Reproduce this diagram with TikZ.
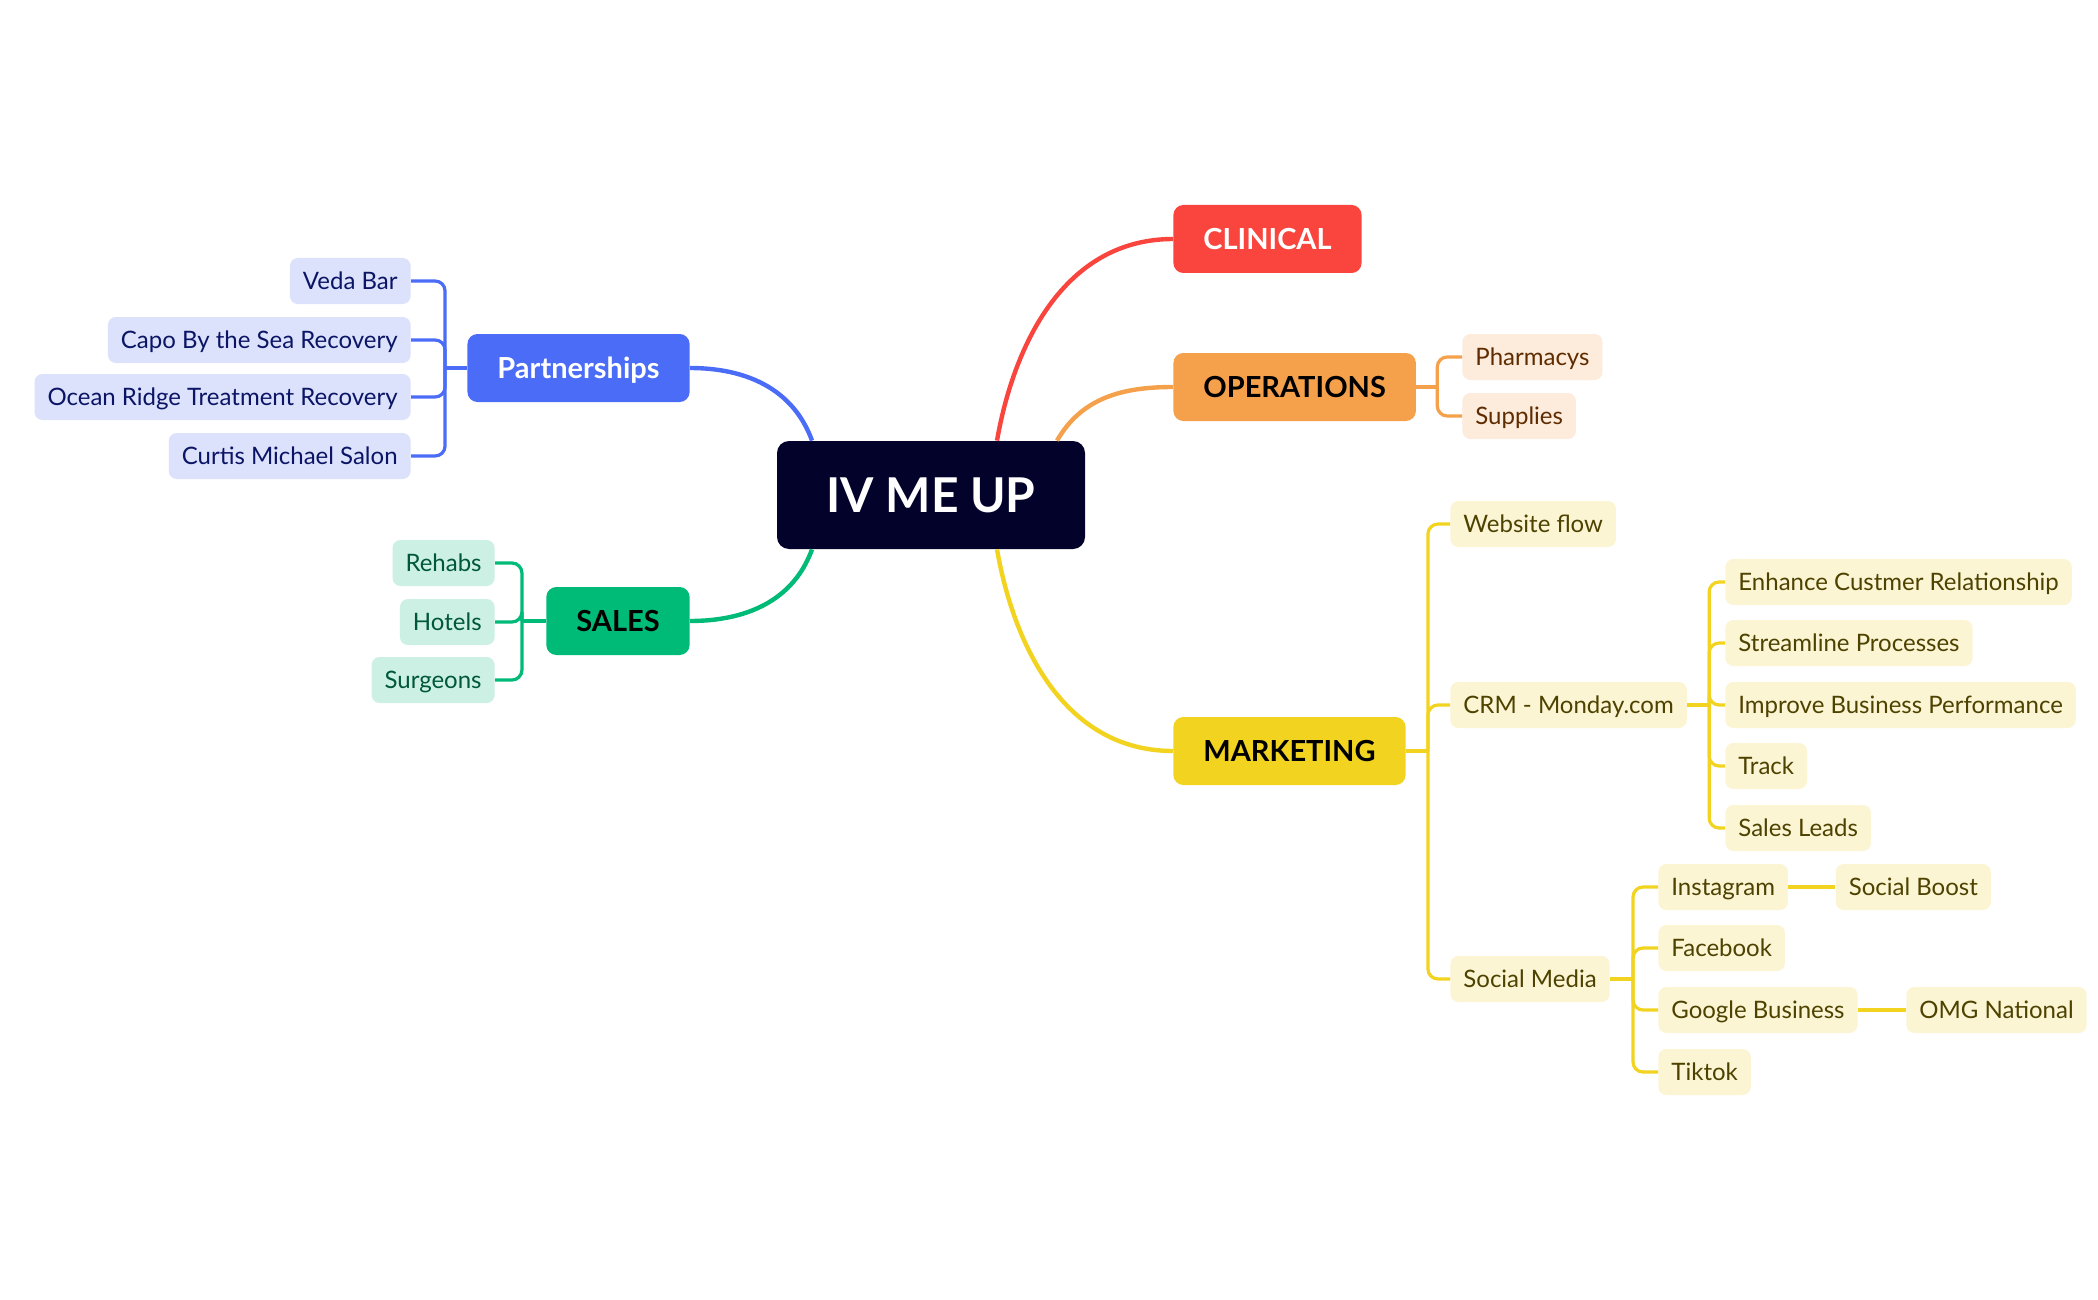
\documentclass[tikz,border=0pt]{standalone}
\usepackage{fontspec}
\setmainfont{Lato}
\usetikzlibrary{positioning}
\definecolor{hubFill}{HTML}{02022B}
\definecolor{clinFill}{HTML}{F9453E}
\definecolor{opsFill}{HTML}{F5A14C}
\definecolor{opsLeaf}{HTML}{FDEBDB}
\definecolor{opsText}{HTML}{5E2C00}
\definecolor{mktFill}{HTML}{F2D420}
\definecolor{mktLeaf}{HTML}{FCF5D4}
\definecolor{mktText}{HTML}{4D4200}
\definecolor{partFill}{HTML}{4A6CF7}
\definecolor{partLeaf}{HTML}{DCE1FC}
\definecolor{partText}{HTML}{0B1565}
\definecolor{salesFill}{HTML}{00BA78}
\definecolor{salesLeaf}{HTML}{CCF0E4}
\definecolor{salesText}{HTML}{00573A}

\begin{document}
\begin{tikzpicture}[
    x=0.5pt, y=0.5pt,
    hub/.style={
        rectangle, fill=hubFill, text=white,
        minimum width=154pt, minimum height=54pt,
        rounded corners=6pt, font=\fontsize{24}{29}\selectfont\bfseries
    },
    topic/.style={
        rectangle, rounded corners=5pt,
        inner xsep=15pt, minimum height=34pt,
        text height=10.5pt, text depth=0pt,
        font=\fontsize{14.5}{17}\selectfont\bfseries
    },
    leaf/.style={
        rectangle, rounded corners=4pt,
        inner xsep=6.5pt, minimum height=23pt,
        text height=10.8pt, text depth=2.4pt,
        font=\fontsize{12}{14.5}\selectfont
    },
    partleaf/.style={leaf, fill=partLeaf, text=partText, anchor=east},
    salesleaf/.style={leaf, fill=salesLeaf, text=salesText, anchor=east},
    opsleaf/.style={leaf, fill=opsLeaf, text=opsText, anchor=west},
    mktleaf/.style={leaf, fill=mktLeaf, text=mktText, anchor=west},
    branch/.style={line width=2.2pt},
    twig/.style={line width=1.6pt, rounded corners=5pt}
]
  \useasboundingbox[fill=white] (0,0) rectangle (2098,-1300);

  % Central topic
  \node[hub] (root) at (931,-495) {IV ME UP};

  % Main topics
  \node[topic, fill=clinFill, text=white, anchor=west] (clin) at (1173,-239) {CLINICAL};
  \node[topic, fill=opsFill, anchor=west] (ops) at (1173,-387) {OPERATIONS};
  \node[topic, fill=mktFill, anchor=west] (mkt) at (1173,-751) {MARKETING};
  \node[topic, fill=partFill, text=white, anchor=east] (part) at (690,-368) {Partnerships};
  \node[topic, fill=salesFill, anchor=east] (sales) at (690,-621) {SALES};

  % Branches from the centre
  \draw[branch, draw=clinFill] ([xshift=33pt]root.north) to[out=80, in=180] (clin.west);
  \draw[branch, draw=opsFill] ([xshift=63pt]root.north) to[out=60, in=180] (ops.west);
  \draw[branch, draw=mktFill] ([xshift=33pt]root.south) to[out=-80, in=180] (mkt.west);
  \draw[branch, draw=partFill] ([xshift=-59.5pt]root.north) to[out=110, in=0] (part.east);
  \draw[branch, draw=salesFill] ([xshift=-59.5pt]root.south) to[out=-110, in=0] (sales.east);

  % Partnerships
  \node[partleaf] (veda) at (411,-281) {Veda Bar};
  \node[partleaf] (capo) at (411,-340) {Capo By the Sea Recovery};
  \node[partleaf] (ocean) at (411,-397) {Ocean Ridge Treatment Recovery};
  \node[partleaf] (curtis) at (411,-456) {Curtis Michael Salon};
  \coordinate (partjoin) at ([xshift=-11pt]part.west);
  \draw[twig, draw=partFill] (part.west) -- (partjoin);
  \foreach \k in {veda,capo,ocean,curtis}
    \draw[twig, draw=partFill] (partjoin) |- (\k.east);

  % Sales
  \node[salesleaf] (rehab) at (495,-563) {Rehabs};
  \node[salesleaf] (hotel) at (495,-622) {Hotels};
  \node[salesleaf] (surg) at (495,-680) {Surgeons};
  \coordinate (salesjoin) at ([xshift=-12pt]sales.west);
  \draw[twig, draw=salesFill] (sales.west) -- (salesjoin);
  \foreach \k in {rehab,hotel,surg}
    \draw[twig, draw=salesFill] (salesjoin) |- (\k.east);

  % Operations
  \node[opsleaf] (pharm) at (1462,-357) {Pharmacys};
  \node[opsleaf] (supp) at (1462,-416) {Supplies};
  \coordinate (opsjoin) at ([xshift=10.5pt]ops.east);
  \draw[twig, draw=opsFill] (ops.east) -- (opsjoin);
  \foreach \k in {pharm,supp}
    \draw[twig, draw=opsFill] (opsjoin) |- (\k.west);

  % Marketing
  \node[mktleaf] (web) at (1450,-524) {Website flow};
  \node[mktleaf] (crm) at (1450,-705) {CRM - Monday.com};
  \node[mktleaf] (soc) at (1450,-979) {Social Media};
  \coordinate (mktjoin) at ([xshift=11pt]mkt.east);
  \draw[twig, draw=mktFill] (mkt.east) -- (mktjoin);
  \foreach \k in {web,crm,soc}
    \draw[twig, draw=mktFill] (mktjoin) |- (\k.west);

  % CRM goals
  \node[mktleaf] (enh) at (1725,-582) {Enhance Custmer Relationship};
  \node[mktleaf] (stream) at (1725,-643) {Streamline Processes};
  \node[mktleaf] (impr) at (1725,-705) {Improve Business Performance};
  \node[mktleaf] (track) at (1725,-766) {Track};
  \node[mktleaf] (leads) at (1725,-828) {Sales Leads};
  \coordinate (crmjoin) at ([xshift=11pt]crm.east);
  \draw[twig, draw=mktFill] (crm.east) -- (crmjoin);
  \foreach \k in {enh,stream,impr,track,leads}
    \draw[twig, draw=mktFill] (crmjoin) |- (\k.west);

  % Social channels
  \node[mktleaf] (insta) at (1658,-887) {Instagram};
  \node[mktleaf] (fb) at (1658,-948) {Facebook};
  \node[mktleaf] (gbiz) at (1658,-1010) {Google Business};
  \node[mktleaf] (tiktok) at (1658,-1072) {Tiktok};
  \node[mktleaf, right=23.5pt of insta] (boost) {Social Boost};
  \node[mktleaf, right=24pt of gbiz] (omg) {OMG National};
  \coordinate (socjoin) at ([xshift=11.5pt]soc.east);
  \draw[twig, draw=mktFill] (soc.east) -- (socjoin);
  \foreach \k in {insta,fb,gbiz,tiktok}
    \draw[twig, draw=mktFill] (socjoin) |- (\k.west);
  \draw[twig, draw=mktFill] (insta.east) -- (boost.west);
  \draw[twig, draw=mktFill] (gbiz.east) -- (omg.west);

\end{tikzpicture}
\end{document}
